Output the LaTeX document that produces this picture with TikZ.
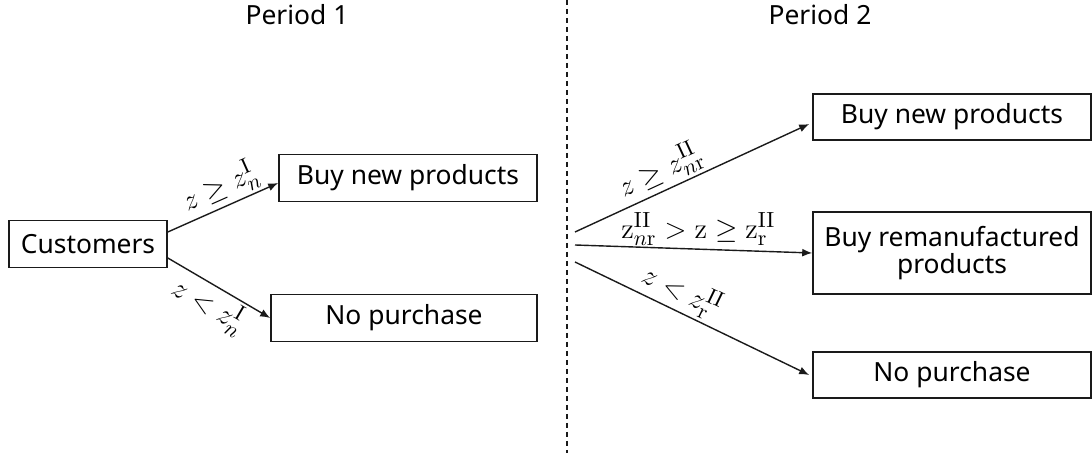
\documentclass[tikz,border=0pt]{standalone}
\usepackage[no-math]{fontspec}
\setmainfont{Noto Sans}
\usepackage{amssymb}
\usepackage{tikz}
\usetikzlibrary{calc, positioning, arrows.meta}
\definecolor{lineBlack}{HTML}{1A1A1A}

\tikzset{
  choicebox/.style={draw=lineBlack, line width=0.8pt, inner sep=2pt, align=center,
    font=\fontsize{13.2}{15.5}\selectfont},
  flowarrow/.style={-{Latex[length=5pt, width=4pt]}, line width=0.7pt, draw=lineBlack},
  condlabel/.style={font=\fontsize{15}{17}\selectfont, inner sep=1.5pt},
  periodtitle/.style={font=\fontsize{13.2}{15.5}\selectfont}
}

\begin{document}
\begin{tikzpicture}[x=0.5pt, y=-0.5pt]
        \useasboundingbox (0,0) rectangle (1092,453);

        % titles and divider
        \node[periodtitle] (per1) at (297,15) {Period 1};
        \node[periodtitle] (per2) at (820,15) {Period 2};
        \draw[lineBlack, line width=0.6pt, dash pattern=on 2.5pt off 2pt] (567,0) -- (567,453);

        % period 1
        \node[choicebox, minimum width=79pt, minimum height=23.5pt] (cust) at (88,244) {Customers};
        \node[choicebox, minimum width=129pt, minimum height=23.5pt] (buyA) at (408,178) {Buy new products};
        \node[choicebox, minimum width=133pt, minimum height=23.5pt] (noA) at (404,318) {No purchase};

        \draw[flowarrow] ([yshift=6pt]cust.east) -- node[condlabel, sloped, above, pos=0.55] {$z \geq z_{n}^{\mathrm{I}}$} ([yshift=-2.5pt]buyA.west);
        \draw[flowarrow] ([yshift=-7pt]cust.east) -- node[condlabel, sloped, below, pos=0.5] {$z < z_{n}^{\mathrm{I}}$} (noA.west);

        % period 2
        \node[choicebox, minimum width=139pt, minimum height=23pt] (buyB) at (952,117) {Buy new products};
        \node[choicebox, minimum width=139pt, minimum height=41pt] (remB) at (952,253) {Buy remanufactured\\[-2pt]products};
        \node[choicebox, minimum width=139pt, minimum height=23pt] (noB) at (952,375) {No purchase};

        \coordinate (srcTop) at (575,232);
        \coordinate (srcMid) at (575,245);
        \coordinate (srcLow) at (575,262);

        \draw[flowarrow] (srcTop) -- node[condlabel, sloped, above, pos=0.4] {$z \geq z_{n\mathrm{r}}^{\mathrm{II}}$} ([xshift=-1.5pt, yshift=-3.5pt]buyB.west);
        \draw[flowarrow] (srcMid) -- node[condlabel, above, pos=0.52] {$\mathrm{z}_{n\mathrm{r}}^{\mathrm{II}} > \mathrm{z} \geq \mathrm{z}_{\mathrm{r}}^{\mathrm{II}}$} (remB.west);
        \draw[flowarrow] (srcLow) -- node[condlabel, sloped, above, pos=0.42] {$z < z_{\mathrm{r}}^{\mathrm{II}}$} ([xshift=-1.5pt]noB.west);
      \end{tikzpicture}
\end{document}
